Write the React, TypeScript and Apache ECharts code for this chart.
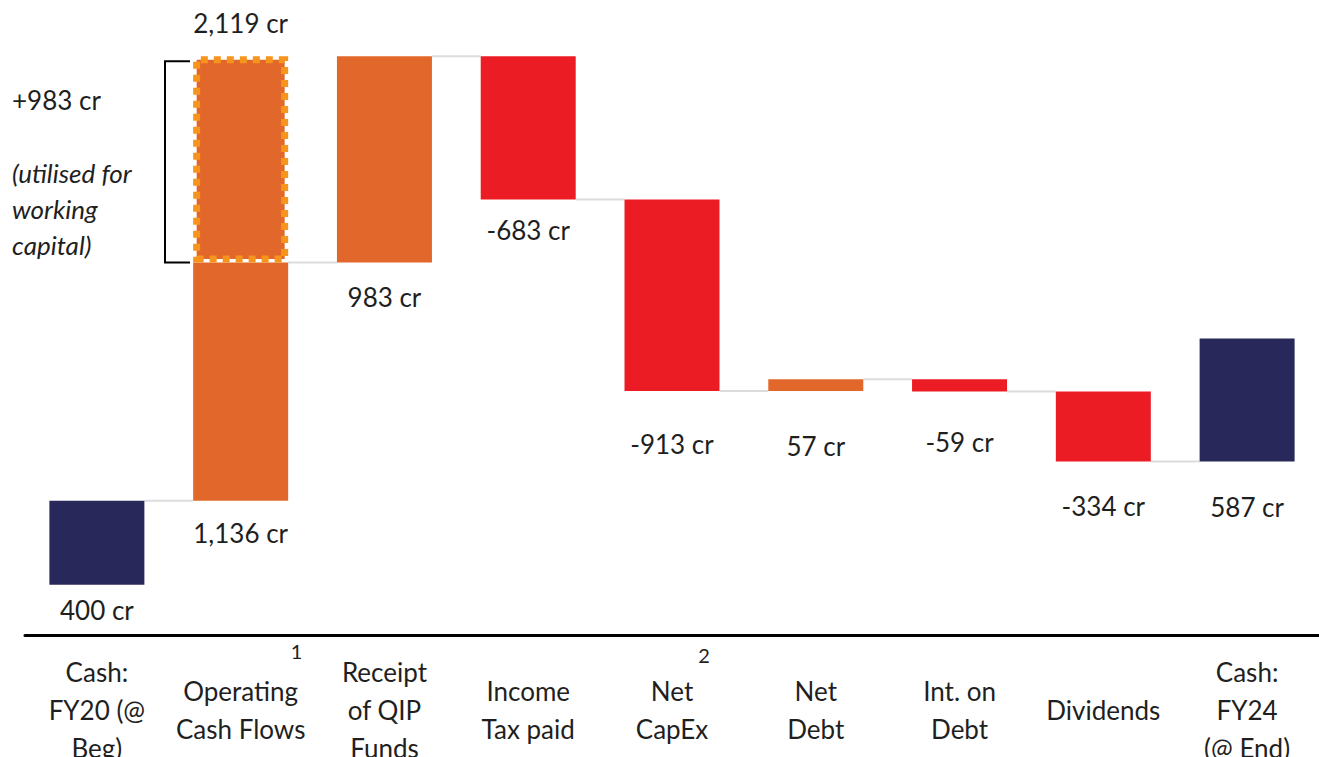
import React, { useEffect, useRef } from "react";
import * as echarts from "echarts";

const categories = [
  "Cash:\nFY20 (@\nBeg)",
  "Operating\nCash Flows",
  "Receipt\nof QIP\nFunds",
  "Income\nTax paid",
  "Net\nCapEx",
  "Net\nDebt",
  "Int. on\nDebt",
  "Dividends",
  "Cash:\nFY24\n(@ End)",
];
const changes = [400, 1136, 983, -683, -913, 57, -59, -334, 587];
const kinds = ["total", "up", "up", "down", "down", "up", "down", "down", "total"];
const workingCapital = [0, 983, 0, 0, 0, 0, 0, 0, 0];
const grossOperating = 2119;
const footnotes = ["", "1", "", "", "2", "", "", "", ""];
const annotationValue = "+983 cr";
const annotationNote = "(utilised for\nworking\ncapital)";

const NAVY = "#29285A";
const ORANGE = "#E2672A";
const RED = "#EC1C24";
const DASH = "#F7941D";
const TEXT = "#1f1f1f";
const FONT = "Lato, 'Noto Sans', sans-serif";
const BAR_W = 95;
// label gap below each bar (style)
const labelGap = [12, 19, 21, 17, 40, 42, 37, 31, 32];
const footOffset = [0, 56, 0, 0, 32, 0, 0, 0, 0];
const footY = [0, 651, 0, 0, 655, 0, 0, 0, 0];

const fmt = (v: number) => (v < 0 ? "-" : "") + Math.abs(v).toLocaleString("en-US") + " cr";

export default function App() {
  const ref = useRef<HTMLDivElement>(null);
  useEffect(() => {
    if (!ref.current) return;
    const chart = echarts.init(ref.current, undefined, { renderer: "svg" });

    const base: number[] = [];
    const heights: number[] = [];
    const levels: number[] = [];
    let level = 0;
    changes.forEach((v, i) => {
      const k = kinds[i];
      if (k === "total") {
        base.push(level);
        heights.push(v);
        level = v;
      } else if (v >= 0) {
        base.push(level);
        heights.push(v);
        level += v;
      } else {
        level += v;
        base.push(level);
        heights.push(-v);
      }
      levels.push(level);
    });

    const connectorData = levels.slice(0, -1).map((lv, i) => [i, lv]);

    chart.setOption({
      animation: false,
      grid: {
        left: 25,
        right: 0,
        top: 10,
        bottom: 122,
        containLabel: false,
        outerBoundsMode: "none",
      },
      xAxis: {
        type: "category",
        data: categories,
        axisLine: { show: true, onZero: false, lineStyle: { color: "#000", width: 3 } },
        axisTick: { show: false },
        axisLabel: {
          interval: 0,
          color: TEXT,
          fontFamily: FONT,
          fontSize: 26,
          lineHeight: 38,
          verticalAlign: "middle",
          margin: 75,
        },
      },
      yAxis: {
        type: "value",
        min: -240,
        max: 2740,
        show: false,
        splitLine: { show: false },
      },
      series: [
        {
          type: "bar",
          stack: "w",
          data: base,
          barWidth: BAR_W,
          itemStyle: { color: "transparent" },
          silent: true,
        },
        {
          type: "bar",
          stack: "w",
          barWidth: BAR_W,
          data: heights.map((h, i) => ({
            value: h,
            itemStyle: {
              color: kinds[i] === "total" ? NAVY : changes[i] >= 0 ? ORANGE : RED,
            },
            label: {
              show: true,
              position: "bottom",
              distance: labelGap[i],
              formatter: fmt(changes[i]),
              color: TEXT,
              fontFamily: FONT,
              fontSize: 26,
            },
          })),
        },
        {
          type: "bar",
          stack: "w",
          barWidth: BAR_W,
          data: workingCapital.map((w) =>
            w > 0
              ? {
                  value: w,
                  itemStyle: {
                    color: ORANGE,
                    borderColor: DASH,
                    borderWidth: 7,
                    borderType: [7, 6],
                  },
                  label: {
                    show: true,
                    position: "top",
                    distance: 20,
                    formatter: fmt(grossOperating),
                    color: TEXT,
                    fontFamily: FONT,
                    fontSize: 26,
                  },
                }
              : { value: 0, itemStyle: { color: "transparent" } }
          ),
        },
        {
          type: "custom",
          data: connectorData,
          encode: { x: 0, y: 1 },
          z: 1,
          renderItem: (params: any, api: any) => {
            const i = api.value(0);
            const lv = api.value(1);
            const p1 = api.coord([i, lv]);
            const p2 = api.coord([i + 1, lv]);
            return {
              type: "line",
              shape: { x1: p1[0] + BAR_W / 2, y1: p1[1], x2: p2[0] - BAR_W / 2, y2: p2[1] },
              style: { stroke: "#dcdcdc", lineWidth: 2 },
            };
          },
        },
      ],
    });

    // annotations positioned from the chart's own scales
    const top = chart.convertToPixel({ gridIndex: 0 }, [1, levels[1] + workingCapital[1]]) as number[];
    const bot = chart.convertToPixel({ gridIndex: 0 }, [1, levels[1]]) as number[];
    const graphics: any[] = [
      {
        type: "polyline",
        shape: {
          points: [
            [190, top[1] + 5],
            [165, top[1] + 5],
            [165, bot[1]],
            [190, bot[1]],
          ],
        },
        style: { stroke: "#000", lineWidth: 2, fill: null },
      },
      {
        type: "text",
        left: 12,
        top: 87,
        style: { text: annotationValue, fill: TEXT, font: `26px ${FONT}` },
      },
      {
        type: "text",
        left: 12,
        top: 155,
        style: {
          text: annotationNote,
          fill: TEXT,
          font: `italic 26px ${FONT}`,
          lineHeight: 36,
        },
      },
    ];
    footnotes.forEach((f, i) => {
      if (!f) return;
      const p = chart.convertToPixel({ gridIndex: 0 }, [i, 0]) as number[];
      graphics.push({
        type: "text",
        x: p[0] + footOffset[i],
        y: footY[i],
        style: {
          text: f,
          fill: TEXT,
          font: `20px ${FONT}`,
          align: "center",
          verticalAlign: "middle",
        },
      });
    });
    chart.setOption({ graphic: graphics });

    return () => chart.dispose();
  }, []);
  return (
    <div
      ref={ref}
      style={{ position: "fixed", left: 0, top: 0, width: 1319, height: 757, background: "#fff" }}
    />
  );
}
